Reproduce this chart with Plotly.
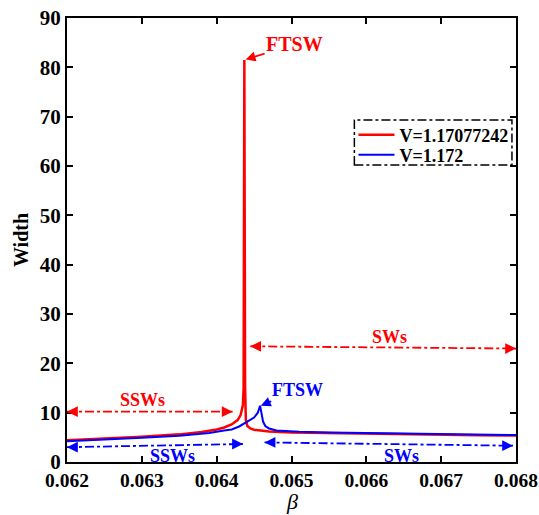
import plotly.graph_objects as go

# Red series: V=1.17077242
red_x = [0.0620, 0.0625, 0.0630, 0.0635, 0.0638, 0.0640, 0.0641, 0.0642, 0.06428, 0.06432,
         0.06435, 0.06436, 0.06437, 0.06438, 0.06439, 0.06441, 0.06445, 0.0645, 0.0647,
         0.0650, 0.0655, 0.0660, 0.0665, 0.0670, 0.0675, 0.0680]
red_y = [4.4, 4.7, 5.1, 5.6, 6.1, 6.6, 7.0, 7.6, 8.5, 9.5,
         11.5, 15.0, 81.5, 15.0, 8.5, 7.3, 6.8, 6.55, 6.2,
         6.0, 5.85, 5.75, 5.6, 5.5, 5.4, 5.35]

# Blue series: V=1.172
blue_x = [0.0620, 0.0625, 0.0630, 0.0635, 0.0639, 0.0641, 0.0642, 0.0643, 0.06437, 0.0645,
          0.06455, 0.06458, 0.0646, 0.06462, 0.06465, 0.0647, 0.0648, 0.0651, 0.0655,
          0.0660, 0.0665, 0.0670, 0.0675, 0.0680]
blue_y = [4.2, 4.5, 4.9, 5.3, 5.9, 6.4, 6.6, 7.2, 7.8, 9.0,
          10.0, 11.4, 9.8, 8.2, 7.3, 6.8, 6.4, 6.15, 6.0,
          5.9, 5.75, 5.6, 5.5, 5.45]

# Double-headed dash-dot arrows
arrow_x0 = [0.0620, 0.064449, 0.0620, 0.06464]
arrow_y0 = [10.2, 23.45, 3.0, 3.97]
arrow_x1 = [0.064213, 0.0680, 0.064351, 0.06796]
arrow_y1 = [10.2, 23.0, 3.65, 3.3]
arrow_col = ["red", "red", "blue", "blue"]

# Region labels
lab_text = ["SSWs", "SWs", "SSWs", "SWs"]
lab_x = [0.063013, 0.066307, 0.063407, 0.066473]
lab_y = [12.6, 25.4, 1.3, 1.3]
lab_col = ["red", "red", "blue", "blue"]

x_ticks = [0.062, 0.063, 0.064, 0.065, 0.066, 0.067, 0.068]
x_ticktext = ["0.062", "0.063", "0.064", "0.065", "0.066", "0.067", "0.068"]

FONT = "Liberation Serif"

fig = go.Figure()
fig.add_trace(go.Scatter(x=red_x, y=red_y, mode="lines", name="V=1.17077242",
                         line=dict(color="#ff0000", width=2.5), legend="legend"))
fig.add_trace(go.Scatter(x=blue_x, y=blue_y, mode="lines", name="V=1.172",
                         line=dict(color="#0000ff", width=2), legend="legend2"))

for x0, y0, x1, y1, c in zip(arrow_x0, arrow_y0, arrow_x1, arrow_y1, arrow_col):
    fig.add_shape(type="line", x0=x0, y0=y0, x1=x1, y1=y1, xref="x", yref="y",
                  line=dict(color=c, width=1.8, dash="dashdot"))
    fig.add_annotation(x=x0, y=y0, ax=12, ay=0, text="", showarrow=True, arrowhead=2,
                       arrowsize=1.2, arrowwidth=1.8, arrowcolor=c)
    fig.add_annotation(x=x1, y=y1, ax=-12, ay=0, text="", showarrow=True, arrowhead=2,
                       arrowsize=1.2, arrowwidth=1.8, arrowcolor=c)

for t, x, y, c in zip(lab_text, lab_x, lab_y, lab_col):
    fig.add_annotation(x=x, y=y, text=t, showarrow=False,
                       font=dict(family=FONT, size=18, color=c, weight="bold"))

# FTSW pointers
fig.add_annotation(x=0.064387, y=81.6, ax=49, ay=-15, text="FTSW", showarrow=True,
                   arrowhead=2, arrowsize=1.1, arrowwidth=1.8, arrowcolor="red",
                   font=dict(family=FONT, size=20, color="red", weight="bold"))
fig.add_annotation(x=0.06459, y=11.4, ax=37, ay=-16, text="FTSW", showarrow=True,
                   arrowhead=2, arrowsize=1.1, arrowwidth=1.8, arrowcolor="blue",
                   font=dict(family=FONT, size=18, color="blue", weight="bold"))

# x-axis title (beta)
fig.add_annotation(xref="paper", yref="paper", x=0.5, y=-0.09, yanchor="middle",
                   text="<i>β</i>", showarrow=False, font=dict(family=FONT, size=22))

# legend dash-dot box
fig.add_shape(type="rect", xref="paper", yref="paper", x0=0.64, x1=0.991, y0=0.669, y1=0.77,
              line=dict(color="black", width=1.5, dash="dashdot"), fillcolor="white", layer="below")

leg_common = dict(x=0.638, xanchor="left", yanchor="middle", bgcolor="rgba(0,0,0,0)",
                  font=dict(family=FONT, size=18, weight="bold"), itemwidth=36,
                  borderwidth=0)
fig.update_layout(
    width=539, height=515,
    margin=dict(l=67, r=23, t=18, b=53),
    plot_bgcolor="white", paper_bgcolor="white",
    font=dict(family=FONT, color="black"),
    legend=dict(y=0.7365, **leg_common),
    legend2=dict(y=0.6914, **leg_common),
    showlegend=True,
)
fig.update_xaxes(range=[0.062, 0.068], tickvals=x_ticks, ticktext=x_ticktext,
                 showline=True, linecolor="black", linewidth=2, mirror="ticks",
                 ticks="inside", ticklen=6, tickwidth=2, tickcolor="black", showgrid=False,
                 zeroline=False, automargin=False, ticklabeloverflow="allow",
                 tickfont=dict(family=FONT, size=19.5, weight="bold"))
fig.update_yaxes(range=[0, 90], dtick=10, showline=True, linecolor="black", linewidth=2,
                 mirror="ticks", ticks="inside", ticklen=6, tickwidth=2, tickcolor="black",
                 showgrid=False, zeroline=False, automargin=False,
                 tickfont=dict(family=FONT, size=21, weight="bold"),
                 title=dict(text="Width", font=dict(family=FONT, size=20, weight="bold"), standoff=6))

fig.write_html("out.html")
